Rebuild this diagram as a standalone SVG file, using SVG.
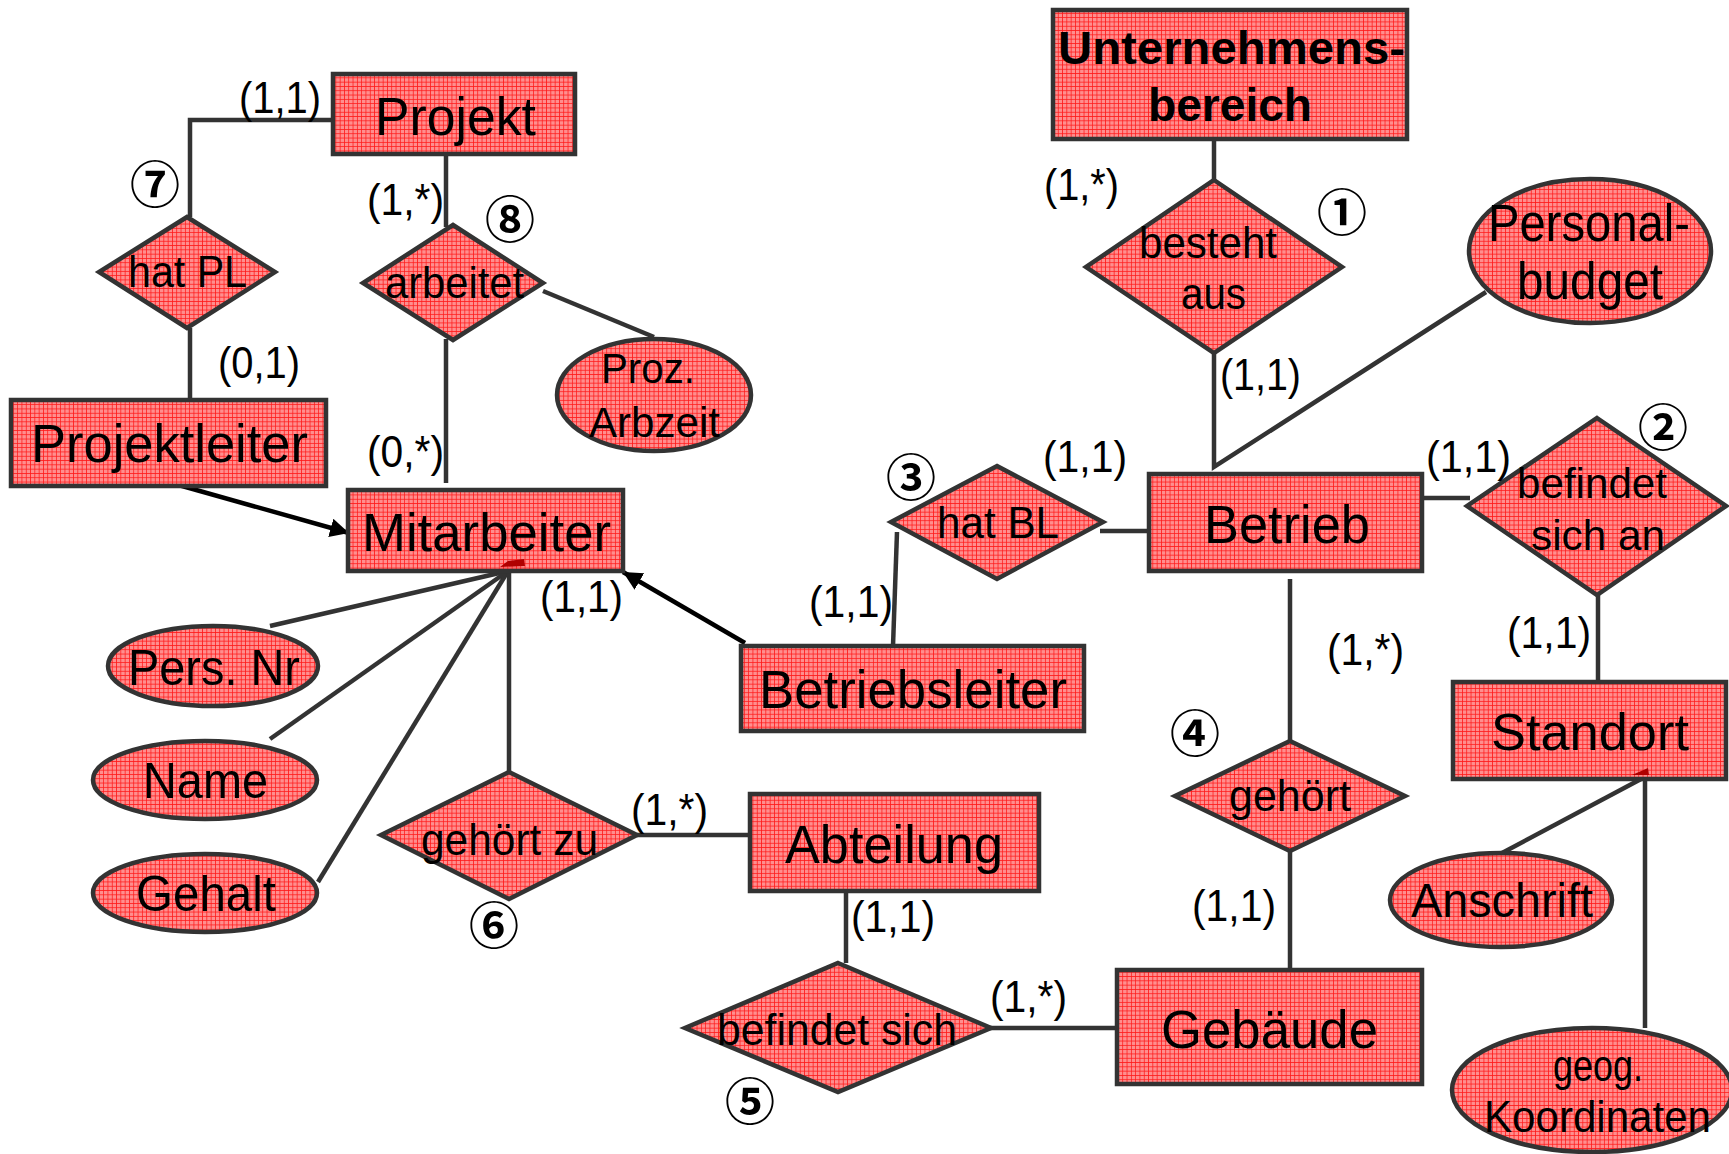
<svg xmlns="http://www.w3.org/2000/svg" width="1729" height="1154" viewBox="0 0 1729 1154">
<defs>
<pattern id="grid" patternUnits="userSpaceOnUse" width="4.3" height="4.3">
<rect width="4.3" height="4.3" fill="#ff8e8e"/>
<path d="M0 0.4H4.3M0.4 0V4.3" stroke="#ff1a1a" stroke-width="0.8" fill="none"/>
</pattern>
<marker id="arr" viewBox="0 0 10 10" refX="10" refY="5" markerWidth="4.2" markerHeight="4.2" orient="auto" markerUnits="strokeWidth">
<path d="M0 0L10 5L0 10Z" fill="#000"/>
</marker>
</defs>
<style>
.shape{fill:url(#grid);stroke:#333;stroke-width:4.5}
.t{font-family:"Liberation Sans",Arial,sans-serif;fill:#000}
.b{font-weight:bold}
.c{font-family:"Noto Sans CJK JP","DejaVu Sans",sans-serif;font-weight:bold;fill:#000;text-anchor:middle}
.ln{stroke:#333;stroke-width:4.5;fill:none}
.ar{stroke:#000;stroke-width:4.5;fill:none}
.mk{fill:#b00000}
</style>
<rect width="1729" height="1154" fill="#fff"/>

<g id="connectors">
<polyline class="ln" points="333,120 190,120 190,217"/>
<line class="ln" x1="190" y1="328" x2="190" y2="400"/>
<line class="ln" x1="446" y1="148" x2="446" y2="227"/>
<line class="ln" x1="446" y1="339" x2="446" y2="483"/>
<line class="ln" x1="543" y1="291" x2="654" y2="337"/>
<line class="ln" x1="508" y1="571" x2="270" y2="626"/>
<line class="ln" x1="508" y1="571" x2="270" y2="739"/>
<line class="ln" x1="508" y1="571" x2="318" y2="882"/>
<line class="ln" x1="509" y1="571" x2="509" y2="772"/>
<line class="ln" x1="637" y1="835" x2="750" y2="835"/>
<line class="ln" x1="846" y1="885" x2="846" y2="963"/>
<line class="ln" x1="990" y1="1028" x2="1117" y2="1028"/>
<line class="ln" x1="1290" y1="979" x2="1290" y2="851"/>
<line class="ln" x1="1290" y1="741" x2="1290" y2="579"/>
<line class="ln" x1="1422" y1="498" x2="1470" y2="498"/>
<line class="ln" x1="1598" y1="595" x2="1598" y2="682"/>
<line class="ln" x1="1643" y1="778" x2="1502" y2="853"/>
<line class="ln" x1="1645" y1="778" x2="1645" y2="1028"/>
<polyline class="ln" points="1214,353 1214,467 1486,292"/>
<line class="ln" x1="1214" y1="132" x2="1214" y2="180"/>
<line class="ln" x1="1100" y1="531" x2="1149" y2="531"/>
<line class="ln" x1="893" y1="646" x2="897" y2="532"/>
<line class="ar" x1="175" y1="484" x2="349" y2="533" marker-end="url(#arr)"/>
<line class="ar" x1="745" y1="643" x2="623" y2="572" marker-end="url(#arr)"/>
</g>

<g id="unternehmensbereich">
<rect class="shape" x="1053" y="10" width="354" height="129"/>
<text class="t b" x="1058" y="64" font-size="46" textLength="347" lengthAdjust="spacingAndGlyphs">Unternehmens-</text>
<text class="t b" x="1148" y="121" font-size="46" textLength="164" lengthAdjust="spacingAndGlyphs">bereich</text>
</g>
<g id="besteht-aus">
<polygon class="shape" points="1214,180 1342,267 1214,353 1086,267"/>
<text class="t" x="1139" y="258" font-size="44" textLength="138" lengthAdjust="spacingAndGlyphs">besteht</text>
<text class="t" x="1181" y="309" font-size="44" textLength="65" lengthAdjust="spacingAndGlyphs">aus</text>
</g>
<g id="personalbudget">
<ellipse class="shape" cx="1590" cy="251" rx="121" ry="72"/>
<text class="t" x="1488" y="241" font-size="51" textLength="202" lengthAdjust="spacingAndGlyphs">Personal-</text>
<text class="t" x="1517" y="299" font-size="51" textLength="146" lengthAdjust="spacingAndGlyphs">budget</text>
</g>
<g id="betrieb">
<rect class="shape" x="1149" y="474" width="273" height="97"/>
<text class="t" x="1204" y="543" font-size="53" textLength="166" lengthAdjust="spacingAndGlyphs">Betrieb</text>
</g>
<g id="befindet-sich-an">
<polygon class="shape" points="1597,418 1726,506 1597,595 1467,506"/>
<text class="t" x="1517" y="498" font-size="43" textLength="150" lengthAdjust="spacingAndGlyphs">befindet</text>
<text class="t" x="1531" y="550" font-size="43" textLength="134" lengthAdjust="spacingAndGlyphs">sich an</text>
</g>
<g id="standort">
<rect class="shape" x="1453" y="682" width="273" height="97"/>
<text class="t" x="1491" y="750" font-size="52" textLength="198" lengthAdjust="spacingAndGlyphs">Standort</text>
<polygon class="mk" points="1632,775 1648,768 1649,775"/>
</g>
<g id="anschrift">
<ellipse class="shape" cx="1501" cy="900" rx="111" ry="47"/>
<text class="t" x="1411" y="917" font-size="49" textLength="182" lengthAdjust="spacingAndGlyphs">Anschrift</text>
</g>
<g id="geog-koordinaten">
<ellipse class="shape" cx="1592" cy="1090" rx="140" ry="62"/>
<text class="t" x="1553" y="1081" font-size="45" textLength="90" lengthAdjust="spacingAndGlyphs">geog.</text>
<text class="t" x="1484" y="1132" font-size="45" textLength="227" lengthAdjust="spacingAndGlyphs">Koordinaten</text>
</g>
<g id="gehoert">
<polygon class="shape" points="1290,741 1405,796 1290,851 1175,796"/>
<text class="t" x="1229" y="811" font-size="44" textLength="122" lengthAdjust="spacingAndGlyphs">gehört</text>
</g>
<g id="gebaeude">
<rect class="shape" x="1117" y="970" width="305" height="114"/>
<text class="t" x="1161" y="1048" font-size="54" textLength="217" lengthAdjust="spacingAndGlyphs">Gebäude</text>
</g>
<g id="befindet-sich">
<polygon class="shape" points="838,963 991,1028 838,1092 685,1028"/>
<text class="t" x="717" y="1045" font-size="44" textLength="240" lengthAdjust="spacingAndGlyphs">befindet sich</text>
</g>
<g id="abteilung">
<rect class="shape" x="750" y="794" width="289" height="97"/>
<text class="t" x="785" y="863" font-size="54" textLength="218" lengthAdjust="spacingAndGlyphs">Abteilung</text>
</g>
<g id="gehoert-zu">
<polygon class="shape" points="509,772 637,835 509,899 381,835"/>
<text class="t" x="421" y="855" font-size="44" textLength="177" lengthAdjust="spacingAndGlyphs">gehört zu</text>
</g>
<g id="mitarbeiter">
<rect class="shape" x="348" y="490" width="275" height="81"/>
<text class="t" x="362" y="551" font-size="54" textLength="249" lengthAdjust="spacingAndGlyphs">Mitarbeiter</text>
<polygon class="mk" points="500,567 508,561 524,559 525,566"/>
</g>
<g id="pers-nr">
<ellipse class="shape" cx="213" cy="666" rx="105" ry="40"/>
<text class="t" x="128" y="685" font-size="50" textLength="172" lengthAdjust="spacingAndGlyphs">Pers. Nr</text>
</g>
<g id="name">
<ellipse class="shape" cx="205" cy="780" rx="112" ry="39"/>
<text class="t" x="143" y="798" font-size="50" textLength="125" lengthAdjust="spacingAndGlyphs">Name</text>
</g>
<g id="gehalt">
<ellipse class="shape" cx="205" cy="893" rx="112" ry="39"/>
<text class="t" x="136" y="911" font-size="50" textLength="140" lengthAdjust="spacingAndGlyphs">Gehalt</text>
</g>
<g id="betriebsleiter">
<rect class="shape" x="741" y="646" width="343" height="85"/>
<text class="t" x="759" y="708" font-size="54" textLength="308" lengthAdjust="spacingAndGlyphs">Betriebsleiter</text>
</g>
<g id="hat-bl">
<polygon class="shape" points="997,466 1103,522 997,579 891,522"/>
<text class="t" x="937" y="538" font-size="44" textLength="122" lengthAdjust="spacingAndGlyphs">hat BL</text>
</g>
<g id="projekt">
<rect class="shape" x="333" y="74" width="242" height="80"/>
<text class="t" x="375" y="135" font-size="54" textLength="161" lengthAdjust="spacingAndGlyphs">Projekt</text>
</g>
<g id="hat-pl">
<polygon class="shape" points="187,217 275,272 187,328 99,272"/>
<text class="t" x="128" y="287" font-size="44" textLength="119" lengthAdjust="spacingAndGlyphs">hat PL</text>
</g>
<g id="projektleiter">
<rect class="shape" x="11" y="400" width="315" height="86"/>
<text class="t" x="31" y="462" font-size="54" textLength="277" lengthAdjust="spacingAndGlyphs">Projektleiter</text>
</g>
<g id="arbeitet">
<polygon class="shape" points="453,225 543,283 453,340 363,283"/>
<text class="t" x="385" y="298" font-size="44" textLength="139" lengthAdjust="spacingAndGlyphs">arbeitet</text>
</g>
<g id="proz-arbzeit">
<ellipse class="shape" cx="654" cy="395" rx="97" ry="56"/>
<text class="t" x="601" y="383" font-size="42" textLength="94" lengthAdjust="spacingAndGlyphs">Proz.</text>
<text class="t" x="589" y="437" font-size="42" textLength="131" lengthAdjust="spacingAndGlyphs">Arbzeit</text>
</g>

<g id="labels">
<text class="t" x="239" y="113" font-size="44" textLength="82" lengthAdjust="spacingAndGlyphs">(1,1)</text>
<text class="t" x="218" y="378" font-size="44" textLength="82" lengthAdjust="spacingAndGlyphs">(0,1)</text>
<text class="t" x="367" y="215" font-size="44" textLength="77" lengthAdjust="spacingAndGlyphs">(1,*)</text>
<text class="t" x="367" y="467" font-size="44" textLength="77" lengthAdjust="spacingAndGlyphs">(0,*)</text>
<text class="t" x="540" y="612" font-size="44" textLength="83" lengthAdjust="spacingAndGlyphs">(1,1)</text>
<text class="t" x="631" y="825" font-size="44" textLength="77" lengthAdjust="spacingAndGlyphs">(1,*)</text>
<text class="t" x="851" y="932" font-size="44" textLength="84" lengthAdjust="spacingAndGlyphs">(1,1)</text>
<text class="t" x="990" y="1012" font-size="44" textLength="77" lengthAdjust="spacingAndGlyphs">(1,*)</text>
<text class="t" x="809" y="617" font-size="44" textLength="84" lengthAdjust="spacingAndGlyphs">(1,1)</text>
<text class="t" x="1043" y="472" font-size="44" textLength="84" lengthAdjust="spacingAndGlyphs">(1,1)</text>
<text class="t" x="1044" y="200" font-size="44" textLength="75" lengthAdjust="spacingAndGlyphs">(1,*)</text>
<text class="t" x="1220" y="390" font-size="44" textLength="81" lengthAdjust="spacingAndGlyphs">(1,1)</text>
<text class="t" x="1426" y="472" font-size="44" textLength="85" lengthAdjust="spacingAndGlyphs">(1,1)</text>
<text class="t" x="1507" y="648" font-size="44" textLength="84" lengthAdjust="spacingAndGlyphs">(1,1)</text>
<text class="t" x="1327" y="665" font-size="44" textLength="77" lengthAdjust="spacingAndGlyphs">(1,*)</text>
<text class="t" x="1192" y="921" font-size="44" textLength="84" lengthAdjust="spacingAndGlyphs">(1,1)</text>
<text class="c" x="1342" y="231" font-size="50">①</text>
<text class="c" x="1663" y="446" font-size="50">②</text>
<text class="c" x="911" y="496" font-size="50">③</text>
<text class="c" x="1195" y="752" font-size="50">④</text>
<text class="c" x="750" y="1120" font-size="50">⑤</text>
<text class="c" x="494" y="944" font-size="50">⑥</text>
<text class="c" x="155" y="203" font-size="50">⑦</text>
<text class="c" x="510" y="238" font-size="50">⑧</text>
</g>
</svg>
